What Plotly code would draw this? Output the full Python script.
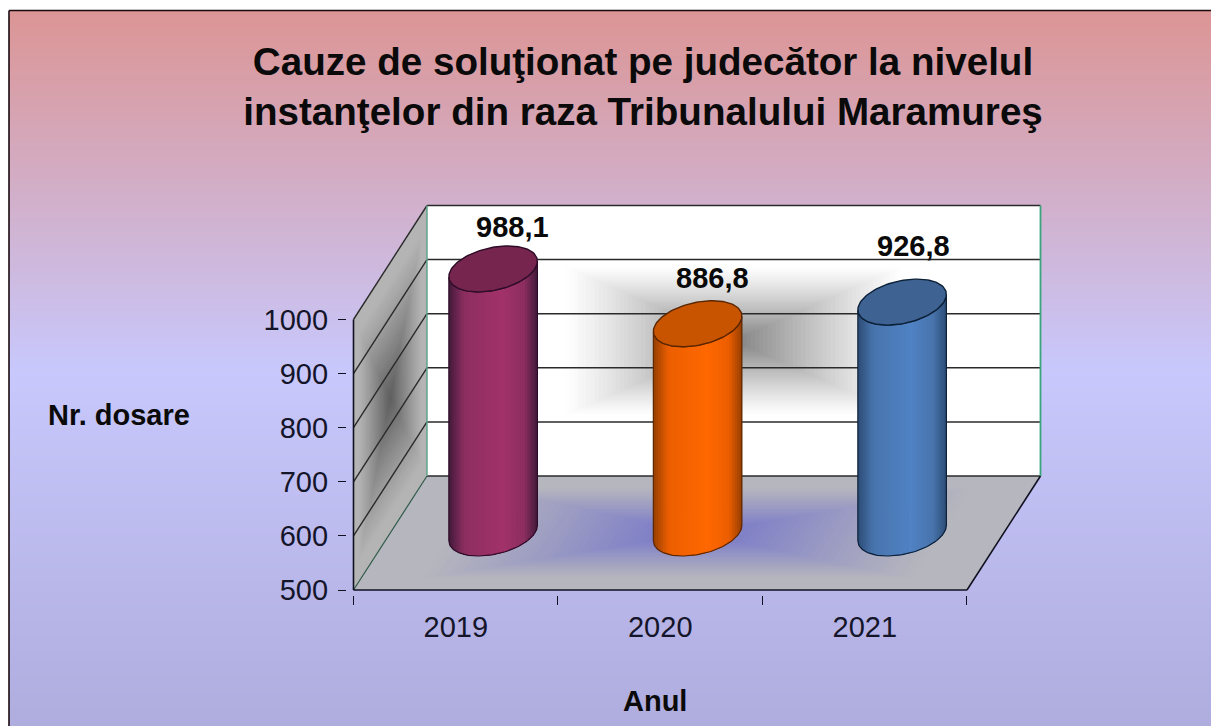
import math
import plotly.graph_objects as go

categories = ["2019", "2020", "2021"]
values = [988.1, 886.8, 926.8]
value_labels = ["988,1", "886,8", "926,8"]
y_ticks = [500, 600, 700, 800, 900, 1000]
title_text = "Cauze de soluţionat pe judecător la nivelul<br>instanţelor din raza Tribunalului Maramureş"
y_title = "Nr. dosare"
x_title = "Anul"

W, H = 1211, 726
PX_X0, PX_PER_X = 353.5, 204.5     # pixel of x=0 and pixels per category
PX_Y500, PX_PER_Y = 590.0, 0.541   # pixel of y=500 and pixels per unit
DX = 73.5 / PX_PER_X               # depth vector, data units
DY = 114.0 / PX_PER_Y
YMIN, YMAX = 500, 1000
PAD_X, PAD_Y = 0.03, 10
x_lo, x_hi = -PAD_X, 3 + DX + PAD_X
y_lo, y_hi = YMIN - PAD_Y, YMAX + DY + PAD_Y
dom_x = [(PX_X0 + x_lo * PX_PER_X) / W, (PX_X0 + x_hi * PX_PER_X) / W]
dom_y = [1 - (PX_Y500 - (y_lo - 500) * PX_PER_Y) / H, 1 - (PX_Y500 - (y_hi - 500) * PX_PER_Y) / H]


def lerp(a, b, t):
    return tuple(a[i] + (b[i] - a[i]) * t for i in range(3))


def rgb(c):
    return "rgb(%d,%d,%d)" % tuple(round(v) for v in c)


shapes = []

# page background gradient (each band runs to the page bottom so no seams appear)
TOP, MID, BOT = (220, 149, 149), (200, 200, 252), (175, 172, 222)
Y0, YM = 11, 370
for py in range(Y0, H, 3):
    if py < YM:
        col = lerp(TOP, MID, (py - Y0) / (YM - Y0))
    else:
        col = lerp(MID, BOT, (py - YM) / (H - YM))
    shapes.append(dict(type="rect", xref="paper", yref="paper", x0=9.5 / W, x1=1, y0=0, y1=1 - py / H,
                       fillcolor=rgb(col), line_width=0, layer="below"))
for seg_ in [(9, 10.5, W, 10.5), (9, 10.5, 9, H)]:
    shapes.append(dict(type="line", xref="paper", yref="paper", x0=seg_[0] / W, x1=seg_[2] / W,
                       y0=1 - seg_[1] / H, y1=1 - seg_[3] / H, line=dict(color="#1a0a10", width=1.6), layer="below"))


def pt(x, y, d=0.0):
    return x + d * DX, y + d * DY


def wall(corners, edge, centre, start, ease, steps=40):
    cx = sum(p[0] for p in corners) / 4
    cy = sum(p[1] for p in corners) / 4

    def poly(s):
        return "M " + " L ".join(f"{cx + (p[0] - cx) * s:.4f} {cy + (p[1] - cy) * s:.3f}" for p in corners) + " Z"

    shapes.append(dict(type="path", path=poly(1), fillcolor=rgb(edge), line_width=0, layer="below"))
    for i in range(steps):
        s = start * (1 - i / steps)
        shapes.append(dict(type="path", path=poly(s), fillcolor=rgb(lerp(edge, centre, ((i + 1) / steps) ** ease)),
                           line_width=0, layer="below"))


wall([pt(0, YMIN, 1), pt(3, YMIN, 1), pt(3, YMAX, 1), pt(0, YMAX, 1)], (255, 255, 255), (132, 132, 132), 0.55, 1.2)
wall([pt(0, YMIN), pt(0, YMIN, 1), pt(0, YMAX, 1), pt(0, YMAX)], (180, 180, 180), (96, 96, 96), 0.85, 1.1)
wall([pt(0, YMIN), pt(3, YMIN), pt(3, YMIN, 1), pt(0, YMIN, 1)], (182, 182, 190), (116, 116, 202), 0.8, 1.1)


def seg(a, b, color, width):
    shapes.append(dict(type="line", x0=a[0], y0=a[1], x1=b[0], y1=b[1], line=dict(color=color, width=width),
                       layer="below"))


GRID = "#2a2a2a"
for v in y_ticks:
    if v > YMIN:
        seg(pt(0, v), pt(0, v, 1), GRID, 1.4)
    seg(pt(0, v, 1), pt(3, v, 1), GRID, 1.5)
seg(pt(0, YMIN), pt(0, YMIN, 1), "#2f5a48", 1.2)
seg(pt(3, YMIN), pt(3, YMIN, 1), "#101020", 1.6)
seg(pt(0, YMIN, 1), pt(0, YMAX, 1), "#5fa58a", 1.5)
seg(pt(3, YMIN, 1), pt(3, YMAX, 1), "#3aa57d", 1.8)
seg(pt(0, YMIN), pt(0, YMAX), "#101020", 1.6)
seg(pt(0, YMIN), pt(3, YMIN), "#101020", 1.7)

# cylinders
A = 41.7 / PX_PER_X    # half width along x
R = 0.2018             # radius along depth
t0 = math.atan2(R * DX, A)
bar_colors = [
    dict(dark=(66, 26, 58), mid=(140, 46, 96), bright=(162, 50, 106), top=(118, 38, 78), line="#2e0c28"),
    dict(dark=(150, 62, 0), mid=(236, 94, 0), bright=(255, 104, 0), top=(200, 84, 0), line="#5a2600"),
    dict(dark=(44, 76, 118), mid=(72, 116, 172), bright=(80, 130, 196), top=(62, 98, 146), line="#0c2038"),
]


def ell(xc, yc, t):
    return xc + A * math.cos(t) + R * DX * math.sin(t), yc + R * DY * math.sin(t)


def shade(c, f):
    stops = [(0, c["dark"]), (0.17, c["mid"]), (0.6, c["bright"]), (0.85, c["mid"]), (1, c["dark"])]
    for (f0, a), (f1, b) in zip(stops, stops[1:]):
        if f <= f1:
            return lerp(a, b, (f - f0) / (f1 - f0))
    return c["dark"]


fig = go.Figure()
STRIPS = 36
ARC = 48
for i, (cat, val, c) in enumerate(zip(categories, values, bar_colors)):
    xc = i + 0.5 + 0.5 * DX + 0.003
    top_y = val + 0.5 * DY
    bot_y = YMIN + 0.5 * DY
    for s in range(STRIPS):
        f = s / STRIPS
        ph0 = 2 * math.pi - math.acos(2 * f - 1)
        ts = [t0 + ph0 + (2 * math.pi - ph0) * k / ARC for k in range(ARC + 1)]
        up = [ell(xc, top_y, t) for t in ts]
        dn = [ell(xc, bot_y, t) for t in reversed(ts)]
        pts = up + dn + up[:1]
        fig.add_trace(go.Scatter(x=[p[0] for p in pts], y=[p[1] for p in pts], mode="lines", fill="toself",
                                 fillcolor=rgb(shade(c, (s + 0.5) / STRIPS)), line=dict(width=0),
                                 hoverinfo="skip", showlegend=False))
    ts = [t0 + math.pi + math.pi * k / 80 for k in range(81)]
    low = [ell(xc, bot_y, t) for t in ts]
    hi = [ell(xc, top_y, t) for t in reversed(ts)]
    pts = low + hi + low[:1]
    fig.add_trace(go.Scatter(x=[p[0] for p in pts], y=[p[1] for p in pts], mode="lines",
                             line=dict(color=c["line"], width=1.2), hoverinfo="skip", showlegend=False))
    ts = [2 * math.pi * k / 120 for k in range(121)]
    pts = [ell(xc, top_y, t) for t in ts]
    fig.add_trace(go.Scatter(x=[p[0] for p in pts], y=[p[1] for p in pts], mode="lines", fill="toself",
                             fillcolor=rgb(c["top"]), line=dict(color=c["line"], width=1.4),
                             name=cat, hoverinfo="skip", showlegend=False))

FONT = "Liberation Sans"
label_shift = [(20, 42), (16, 46), (12, 56)]
annotations = []
for i, (txt, val) in enumerate(zip(value_labels, values)):
    annotations.append(dict(x=i + 0.5 + 0.5 * DX, y=val + 0.5 * DY, xref="x", yref="y", text=txt, showarrow=False,
                            xshift=label_shift[i][0], yshift=label_shift[i][1], xanchor="center", yanchor="middle",
                            font=dict(family=FONT, size=29, color="#0a0a0a")))
annotations.append(dict(x=119 / W, y=1 - 415 / H, xref="paper", yref="paper", text=y_title, showarrow=False,
                        xanchor="center", yanchor="middle", font=dict(family=FONT, size=29, color="#0a0a0a")))
annotations.append(dict(x=655 / W, y=1 - 701 / H, xref="paper", yref="paper", text=x_title, showarrow=False,
                        xanchor="center", yanchor="middle", font=dict(family=FONT, size=29, color="#0a0a0a")))
for a in annotations:
    a["text"] = "<b>" + a["text"] + "</b>"

fig.update_layout(
    width=W, height=H, margin=dict(l=0, r=0, t=0, b=0, autoexpand=False),
    paper_bgcolor="white", plot_bgcolor="rgba(0,0,0,0)", showlegend=False,
    title=dict(text="<b>" + title_text + "</b>", x=643 / W, xanchor="center", y=1 - 75 / H, yanchor="middle",
               font=dict(family=FONT, size=38.6, color="#0a0a0a")),
    shapes=shapes, annotations=annotations,
    xaxis=dict(domain=dom_x, range=[x_lo, x_hi], showgrid=False, zeroline=False, showline=False,
               tickmode="array", tickvals=[0.5, 1.5, 2.5], ticktext=categories, ticks="", ticklabelstandoff=12,
               tickfont=dict(family=FONT, size=29, color="#15152a"), fixedrange=True,
               minor=dict(tickmode="array", tickvals=[0, 1, 2, 3], ticks="outside", ticklen=9, tickwidth=1.4,
                          tickcolor="#101020", showgrid=False)),
    yaxis=dict(domain=dom_y, range=[y_lo, y_hi], showgrid=False, zeroline=False, showline=False,
               tickmode="array", tickvals=y_ticks, ticks="outside", ticklen=8.5, tickwidth=1.4, tickcolor="#101020",
               ticklabelstandoff=4, tickfont=dict(family=FONT, size=29, color="#15152a"), fixedrange=True),
)

fig.write_html("out.html", config={"displayModeBar": False},
               post_script="document.body.style.margin='0';document.body.style.overflow='hidden';")
